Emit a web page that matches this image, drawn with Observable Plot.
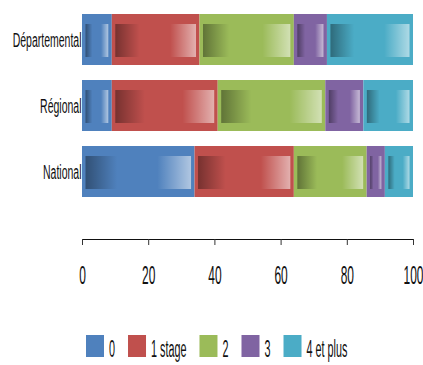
<!DOCTYPE html>
<html>
<head>
<meta charset="utf-8">
<script src="https://cdn.jsdelivr.net/npm/d3@7"></script>
<script src="https://cdn.jsdelivr.net/npm/@observablehq/plot@0.6"></script>
<style>
  html, body { margin: 0; padding: 0; background: #fff; }
  #chart svg { display: block; }
</style>
</head>
<body>
<div id="chart"></div>
<script>
// ---- data ----
const levels = ["Départemental", "Régional", "National"];
const categories = ["0", "1 stage", "2", "3", "4 et plus"];
const colors = ["#4F81BD", "#C0504D", "#9BBB59", "#8064A2", "#4BACC6"];
const valuesDepartemental = [9, 26.5, 28.5, 10, 26];
const valuesRegional = [9, 32, 32.5, 11.5, 15];
const valuesNational = [34, 30, 22, 5.5, 8.5];
const xTicks = [0, 20, 40, 60, 80, 100];

const seriesByLevel = [valuesDepartemental, valuesRegional, valuesNational];
const data = [];
levels.forEach((lvl, i) => {
  categories.forEach((cat, j) => {
    data.push({level: lvl, category: cat, value: seriesByLevel[i][j]});
  });
});

const W = 423, H = 300;
const squeeze = 0.47;

const stackOpts = {x: "value", y: "level", z: "category", order: categories};

const svg = Plot.plot({
  width: W,
  height: H,
  marginLeft: 82,
  marginRight: 10,
  marginTop: 0,
  marginBottom: 61,
  style: {fontFamily: "Liberation Sans, Arial, sans-serif", color: "#111", background: "#fff"},
  x: {domain: [0, 100], ticks: xTicks, tickSize: 6, tickPadding: 20, line: true, label: null, tickFormat: d => String(d)},
  y: {domain: levels, range: [6, 206], paddingInner: 0.22, paddingOuter: 0.11, tickSize: 0, tickPadding: 1, label: null},
  color: {domain: categories, range: colors},
  marks: [
    Plot.barX(data, Plot.stackX({...stackOpts, fill: "category"})),
    Plot.barX(data, Plot.stackX({...stackOpts, fill: "#000", insetLeft: 3.5, insetRight: 3.5, insetTop: 10, insetBottom: 8})),
  ]
});

// gradient overlay definition
const s = d3.select(svg);
const defs = s.insert("defs", ":first-child");
const g = defs.append("linearGradient").attr("id", "shade").attr("x1", 0).attr("x2", 1).attr("y1", 0).attr("y2", 0);
[[0, "#000", 0.38], [0.3, "#000", 0], [0.68, "#fff", 0], [1, "#fff", 0.55]].forEach(([o, c, a]) => {
  g.append("stop").attr("offset", o).attr("stop-color", c).attr("stop-opacity", a);
});
// second barX group: overlay fill
const barGroups = s.selectAll('g[aria-label="bar"]').nodes();
if (barGroups.length > 1) {
  d3.select(barGroups[1]).attr("fill", "url(#shade)").selectAll("rect").attr("fill", "url(#shade)");
}

document.getElementById("chart").appendChild(svg);

// axis styling: grey domain line, squeezed tall text
s.selectAll('[aria-label="x-axis line"], [aria-label="x-axis line"] *').attr("stroke", "#b8b8b8");
s.selectAll('[aria-label="x-axis tick"]').attr("stroke", "#333");
s.selectAll("text").each(function() {
  const t = this;
  const isX = !!t.closest('[aria-label*="x-axis"]');
  const isY = !!t.closest('[aria-label*="y-axis"]');
  if (!isX && !isY) return;
  const tr = t.getAttribute("transform") || "";
  t.setAttribute("transform", `${tr} scale(${isX ? 0.46 : 0.5},1)`);
  t.setAttribute("font-size", isX ? 26 : 21);
  t.setAttribute("fill", "#111");
});

// legend
const legend = d3.select("#chart").append("svg").attr("width", W).attr("height", 65)
  .style("font-family", "Liberation Sans, Arial, sans-serif");
let cx = 86;
categories.forEach((cat, i) => {
  legend.append("rect").attr("x", cx).attr("y", 35).attr("width", 18).attr("height", 22).attr("fill", colors[i]);
  cx += 18 + 5;
  const txt = legend.append("text").attr("font-size", 23).attr("fill", "#111").text(cat)
    .attr("transform", `translate(${cx},${57}) scale(${squeeze},1)`);
  const w = txt.node().getComputedTextLength() * squeeze;
  cx += w + 13;
});
</script>
</body>
</html>
